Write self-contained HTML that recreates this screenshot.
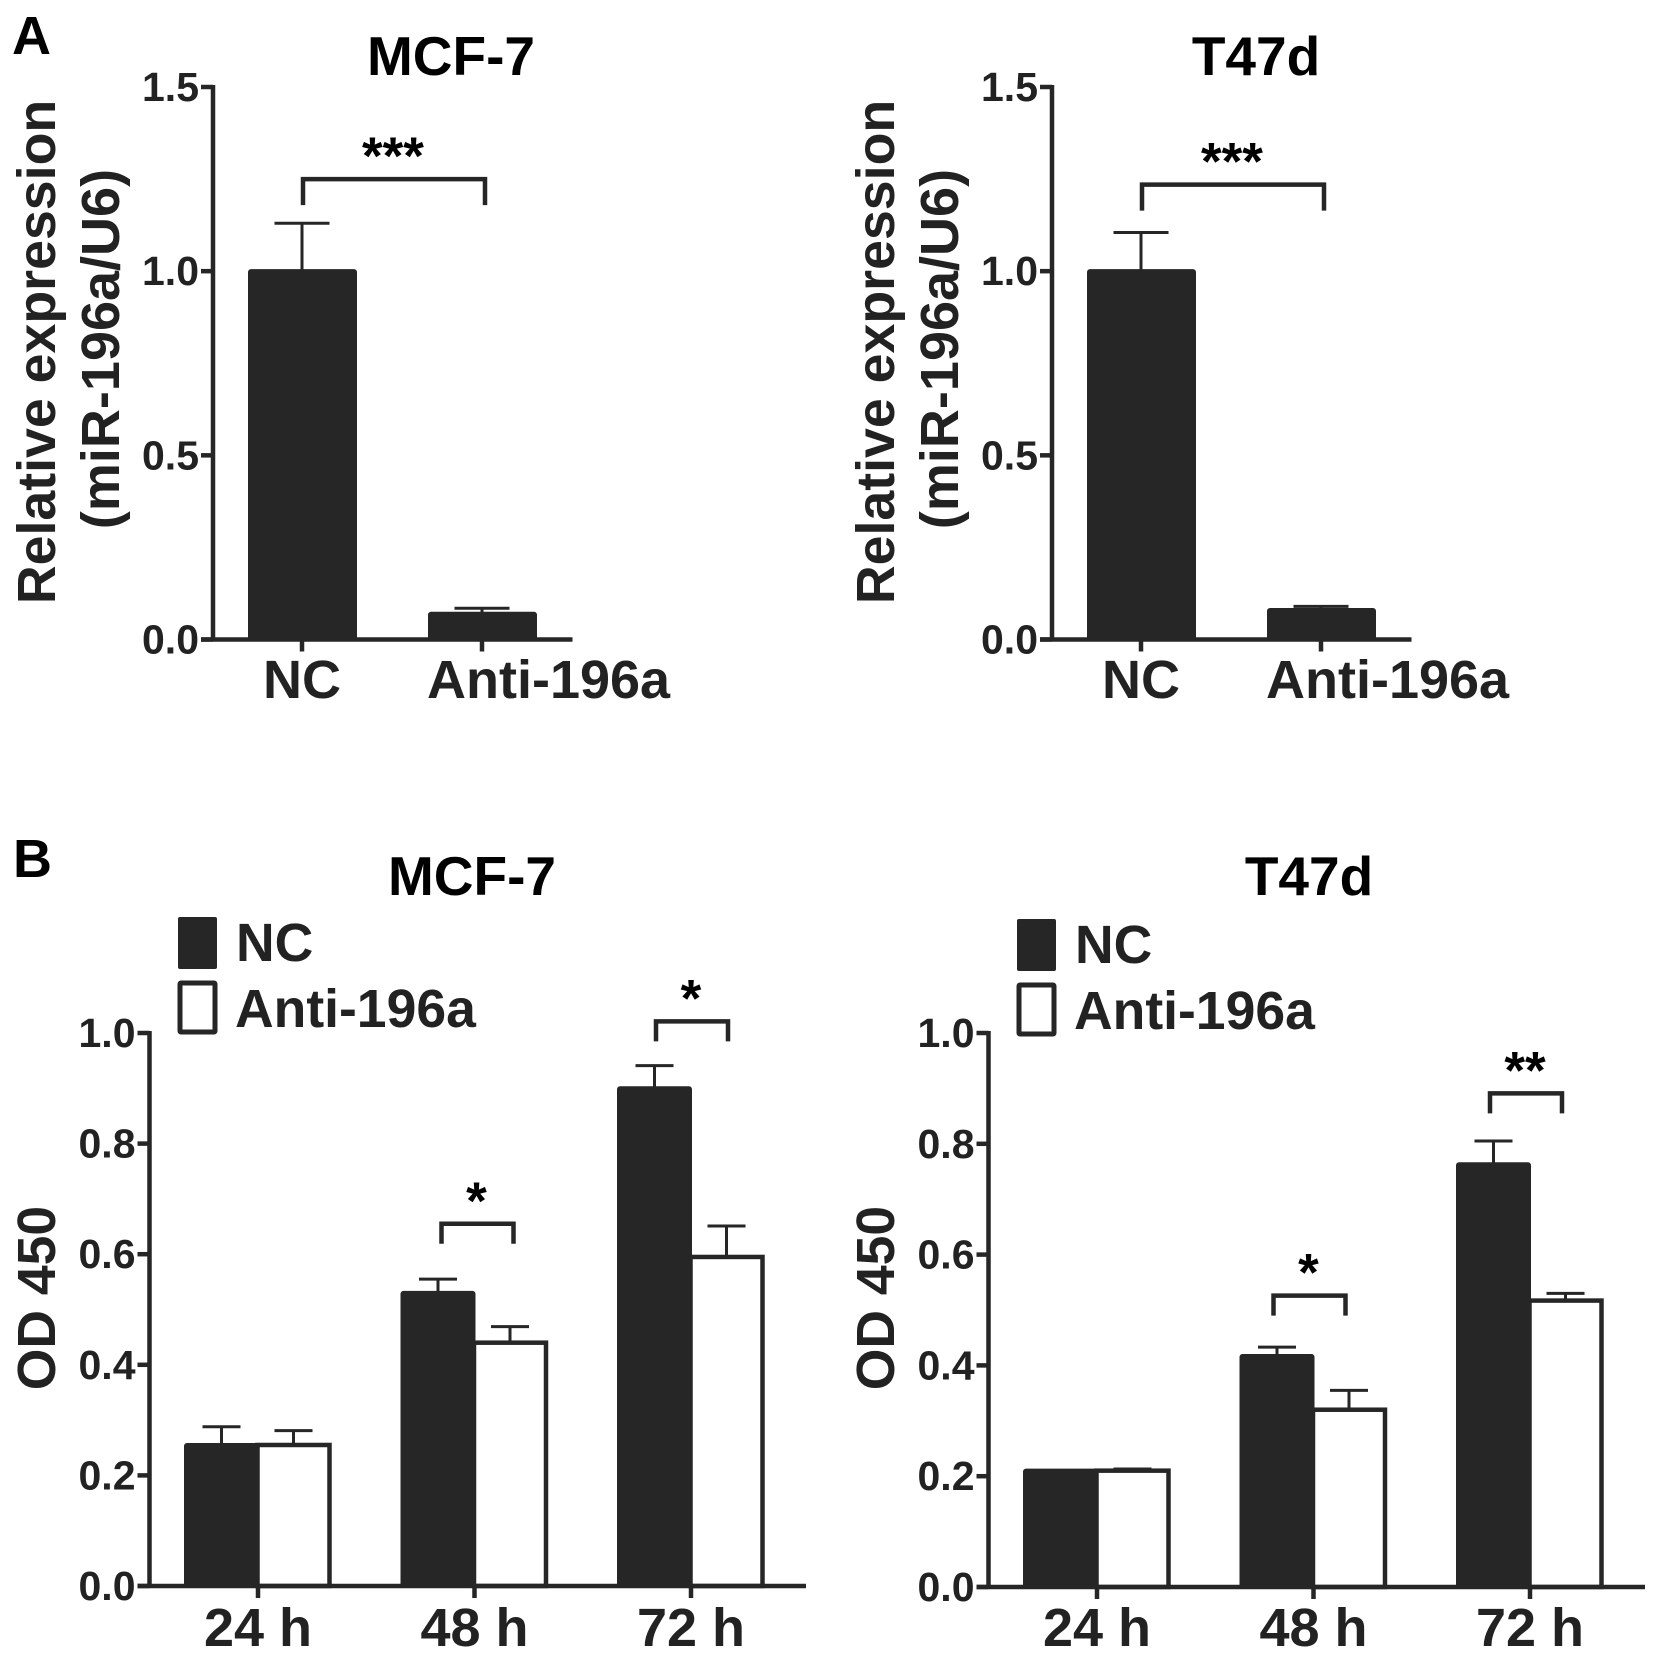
<!DOCTYPE html>
<html lang="en">
<head>
<meta charset="utf-8">
<title>miR-196a expression and OD 450</title>
<style>
html,body{margin:0;padding:0;background:#fff;width:1654px;height:1662px;overflow:hidden}
svg{display:block}
text{font-family:"Liberation Sans",Arial,sans-serif;font-weight:bold;fill:#222}
</style>
</head>
<body>
<svg id="figure" width="1654" height="1662" viewBox="0 0 1654 1662" xmlns="http://www.w3.org/2000/svg">
  <text x="12" y="54" font-size="54" style="fill:#000">A</text>
  <text x="13" y="877" font-size="54" style="fill:#000">B</text>

  <text x="451" y="75" font-size="55" text-anchor="middle" style="fill:#000">MCF-7</text>
  <text x="1256" y="75" font-size="55" text-anchor="middle" style="fill:#000">T47d</text>
  <text x="472" y="895" font-size="55" text-anchor="middle" style="fill:#000">MCF-7</text>
  <text x="1309" y="895" font-size="55" text-anchor="middle" style="fill:#000">T47d</text>

  <text transform="translate(55,352) rotate(-90)" font-size="53.7" text-anchor="middle">Relative expression</text>
  <text transform="translate(119,349) rotate(-90)" font-size="54" text-anchor="middle">(miR-196a/U6)</text>
  <text transform="translate(894,352) rotate(-90)" font-size="53.7" text-anchor="middle">Relative expression</text>
  <text transform="translate(958,349) rotate(-90)" font-size="54" text-anchor="middle">(miR-196a/U6)</text>
  <text transform="translate(55,1298) rotate(-90)" font-size="53.5" text-anchor="middle">OD 450</text>
  <text transform="translate(894,1298) rotate(-90)" font-size="53.5" text-anchor="middle">OD 450</text>

  <rect x="178" y="917" width="39" height="52" rx="2" fill="#262626"/>
  <rect x="180" y="983" width="35" height="49" rx="1" fill="#fff" stroke="#262626" stroke-width="5"/>
  <text x="236" y="961" font-size="53.5">NC</text>
  <text x="235" y="1027" font-size="53.5">Anti-196a</text>

  <rect x="1017" y="919" width="39" height="52" rx="2" fill="#262626"/>
  <rect x="1019" y="985" width="35" height="49" rx="1" fill="#fff" stroke="#262626" stroke-width="5"/>
  <text x="1075" y="963" font-size="53.5">NC</text>
  <text x="1074" y="1029" font-size="53.5">Anti-196a</text>
</svg>
<script>
// ---- Panel A data ----
const aCategories = ['NC', 'Anti-196a'];
const aTicks = [0, 0.5, 1.0, 1.5];
const aTickLabels = ['0.0', '0.5', '1.0', '1.5'];
const aMcfValues = [1.0, 0.07];
const aMcfErrors = [1.13, 0.085];
const aMcfBracket = [1.25];
const aMcfStars = ['***'];
const aT47Values = [1.0, 0.08];
const aT47Errors = [1.105, 0.09];
const aT47Bracket = [1.235];
const aT47Stars = ['***'];

// ---- Panel B data ----
const bCategories = ['24 h', '48 h', '72 h'];
const bTicks = [0, 0.2, 0.4, 0.6, 0.8, 1.0];
const bTickLabels = ['0.0', '0.2', '0.4', '0.6', '0.8', '1.0'];
const bMcfNC = [0.255, 0.53, 0.9];
const bMcfNCErr = [0.288, 0.555, 0.941];
const bMcfAnti = [0.255, 0.44, 0.595];
const bMcfAntiErr = [0.281, 0.469, 0.651];
const bMcfBrackets = [null, 0.655, 1.021];
const bMcfStars = ['', '*', '*'];
const bT47NC = [0.21, 0.417, 0.763];
const bT47NCErr = [0.21, 0.433, 0.805];
const bT47Anti = [0.21, 0.32, 0.517];
const bT47AntiErr = [0.213, 0.355, 0.53];
const bT47Brackets = [null, 0.526, 0.891];
const bT47Stars = ['', '*', '**'];

const svg = document.getElementById('figure');
const NS = 'http://www.w3.org/2000/svg';
const INK = '#262626';

function make(tag, attrs, parent) {
  const n = document.createElementNS(NS, tag);
  for (const k in attrs) n.setAttribute(k, attrs[k]);
  parent.appendChild(n);
  return n;
}
function seg(parent, x1, y1, x2, y2, w) {
  return make('line', {x1: x1, y1: y1, x2: x2, y2: y2, stroke: INK, 'stroke-width': w, 'stroke-linecap': 'butt'}, parent);
}

function drawAxes(g, p, ticks, labels, cats, labelAnchor) {
  const yS = v => p.y0 - v / p.yMax * p.h;
  const yAxis = seg(g, p.ax, yS(p.yMax) - 2, p.ax, p.y0 + 2, 4.5);
  
  
  const xAxis = seg(g, p.ax - 12, p.y0, p.axEnd, p.y0, 4.5);
  
  
  ticks.forEach((t, i) => {
    const tk = seg(g, p.ax - 12, yS(t), p.ax, yS(t), 4.5);
    
    
    const lb = make('text', {x: p.ax - 14, y: yS(t) + 14, 'font-size': 41, 'text-anchor': 'end'}, g);
    lb.textContent = labels[i];
    
    
  });
  cats.forEach((c, i) => {
    const cx = p.x(i);
    const tk = seg(g, cx, p.y0, cx, p.y0 + 12, 4.5);
    
    
    const lb = make('text', labelAnchor(c, i, cx), g);
    lb.textContent = c;
    
    
  });
}

function drawBracket(g, p, x1, x2, value, drop, stars) {
  const yS = v => p.y0 - v / p.yMax * p.h;
  const y = yS(value);
  const br = make('path', {d: 'M' + x1 + ' ' + (y + drop) + 'V' + y + 'H' + x2 + 'V' + (y + drop), fill: 'none', stroke: INK, 'stroke-width': 4.5}, g);
  
  
  const st = make('text', {x: (x1 + x2) / 2 - 1, y: y - 5, 'font-size': 53, 'text-anchor': 'middle'}, g);
  st.textContent = stars;
  st.style.fill = '#000';
  
  
}

function drawErr(g, p, cx, val, err, cap) {
  const yS = v => p.y0 - v / p.yMax * p.h;
  if (err <= val) return;
  const stem = seg(g, cx, yS(val), cx, yS(err), 3);
  
  
  const c = seg(g, cx - cap / 2, yS(err), cx + cap / 2, yS(err), 3);
  
  
}

function panelA(offset, values, errors, bracket, stars, groupName) {
  const p = {ax: 213 + offset, axEnd: 572.5 + offset, y0: 639.5, h: 552.5, yMax: 1.5,
             x: i => 302 + offset + i * 180};
  const g = make('g', {}, svg);
  
  
  const yS = v => p.y0 - v / p.yMax * p.h;
  values.forEach((v, i) => {
    const cx = p.x(i);
    drawErr(g, p, cx, v, errors[i], 55);
    const b = make('rect', {x: cx - 52, y: yS(v), width: 105, height: p.y0 - yS(v), rx: 1, fill: INK, stroke: INK, 'stroke-width': 4}, g);
    
    
  });
  drawAxes(g, p, aTicks, aTickLabels, aCategories, (c, i, cx) =>
    i === 0 ? {x: cx, y: 698, 'font-size': 54, 'text-anchor': 'middle'}
            : {x: cx - 55, y: 698, 'font-size': 54, 'text-anchor': 'start'});
  drawBracket(g, p, p.x(0) + 1, p.x(1) + 3, bracket[0], 26, stars[0]);
}

function panelB(offset, y0, nc, ncErr, anti, antiErr, brackets, stars, bracketShift, groupName) {
  const p = {ax: 149.5 + offset, axEnd: 806 + offset, y0: y0, h: y0 - 1033, yMax: 1.0,
             x: i => 258 + offset + i * 216.5};
  const g = make('g', {}, svg);
  
  
  const yS = v => p.y0 - v / p.yMax * p.h;
  bCategories.forEach((c, i) => {
    const cx = p.x(i);
    const blackX = cx - 74;
    const whiteX = cx - 0.5;
    drawErr(g, p, blackX + 37.5, nc[i], ncErr[i], 38);
    drawErr(g, p, whiteX + 36, anti[i], antiErr[i], 38);
    const bk = make('rect', {x: blackX + 2, y: yS(nc[i]), width: 71, height: p.y0 - yS(nc[i]), rx: 1, fill: INK, stroke: INK, 'stroke-width': 4}, g);
    
    
    const wh = make('rect', {x: whiteX, y: yS(anti[i]), width: 72, height: p.y0 - yS(anti[i]), fill: '#fff', stroke: INK, 'stroke-width': 4.5}, g);
    
    
    if (brackets[i] !== null) {
      const s = bracketShift(i);
      drawBracket(g, p, cx - 33 + s, cx + 39 + s, brackets[i], 20, stars[i]);
    }
  });
  drawAxes(g, p, bTicks, bTickLabels, bCategories, (c, i, cx) =>
    ({x: cx, y: 1646, 'font-size': 54, 'text-anchor': 'middle'}));
}

panelA(0, aMcfValues, aMcfErrors, aMcfBracket, aMcfStars, 'chart-a-mcf7');
panelA(839, aT47Values, aT47Errors, aT47Bracket, aT47Stars, 'chart-a-t47d');
panelB(0, 1586, bMcfNC, bMcfNCErr, bMcfAnti, bMcfAntiErr, bMcfBrackets, bMcfStars, i => (i === 2 ? -2 : 0), 'chart-b-mcf7');
panelB(839, 1587, bT47NC, bT47NCErr, bT47Anti, bT47AntiErr, bT47Brackets, bT47Stars, i => -7, 'chart-b-t47d');
</script>
</body>
</html>
